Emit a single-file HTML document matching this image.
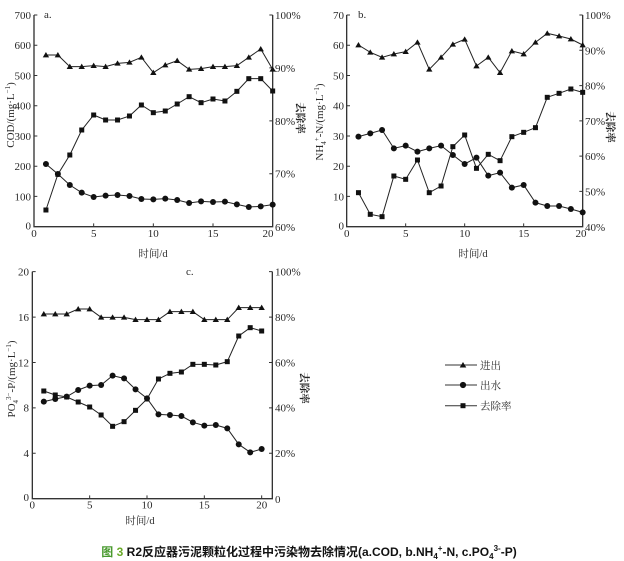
<!DOCTYPE html>
<html>
<head>
<meta charset="utf-8">
<style>
html,body{margin:0;padding:0;background:#fff;}
svg{display:block;}
.n{font-family:"Liberation Serif","Noto Serif CJK SC",serif;font-size:11px;fill:#2a2a2a;}
.cj{font-family:"Liberation Serif","Noto Serif CJK SC",serif;font-size:10.5px;fill:#2a2a2a;}
.cjb{font-family:"Liberation Serif","Noto Serif CJK SC",serif;font-size:10.5px;fill:#222;font-weight:bold;}
.cap{font-family:"Liberation Sans","Noto Sans CJK SC",sans-serif;font-size:12px;font-weight:bold;fill:#111;}
</style>
</head>
<body>
<svg width="624" height="561" viewBox="0 0 624 561" xmlns="http://www.w3.org/2000/svg">
<rect width="624" height="561" fill="#fff"/>
<defs>
  <marker id="tri" viewBox="-11 -11 22 22" markerWidth="22" markerHeight="22" refX="0" refY="0" markerUnits="userSpaceOnUse" orient="0" overflow="visible">
    <path d="M0,-9 L9.5,7 L-9.5,7Z" fill="#111"/>
  </marker>
  <marker id="cir" viewBox="-11 -11 22 22" markerWidth="22" markerHeight="22" refX="0" refY="0" markerUnits="userSpaceOnUse" orient="0" overflow="visible">
    <circle r="9" fill="#111"/>
  </marker>
  <marker id="sq" viewBox="-11 -11 22 22" markerWidth="22" markerHeight="22" refX="0" refY="0" markerUnits="userSpaceOnUse" orient="0" overflow="visible">
    <rect x="-7.5" y="-7.5" width="15" height="15" fill="#111"/>
  </marker>
</defs>

<!-- ===== Chart a ===== -->
<g transform="scale(0.333333)">
  <path d="M102,45 V680 H818 V45" fill="none" stroke="#333" stroke-width="4"/>
  <path d="M102,45h10M102,135.7h10M102,226.4h10M102,317.1h10M102,407.9h10M102,498.6h10M102,589.3h10
           M818,45h-10M818,203.75h-10M818,362.5h-10M818,521.25h-10
           M281,680v-10M460,680v-10M639,680v-10" stroke="#333" stroke-width="3" fill="none"/>
  <polyline fill="none" stroke="#222" stroke-width="3" marker-start="url(#tri)" marker-mid="url(#tri)" marker-end="url(#tri)"
    points="137.8,165 173.6,165 209.4,200 245.2,200 281,197 316.8,200 352.6,190 388.4,187 424.2,172 460,218 495.8,195 531.6,182 567.4,208 603.2,206 639,200 674.8,200 710.6,197 746.4,172 782.2,147 818,208"/>
  <polyline fill="none" stroke="#222" stroke-width="3" marker-start="url(#cir)" marker-mid="url(#cir)" marker-end="url(#cir)"
    points="137.8,492 173.6,522 209.4,555 245.2,578 281,591 316.8,587 352.6,585 388.4,588 424.2,597 460,598 495.8,596 531.6,600 567.4,609 603.2,604 639,606 674.8,605 710.6,613 746.4,621 782.2,619 818,614"/>
  <polyline fill="none" stroke="#222" stroke-width="3" marker-start="url(#sq)" marker-mid="url(#sq)" marker-end="url(#sq)"
    points="137.8,630 173.6,523 209.4,465 245.2,390 281,345 316.8,360 352.6,360 388.4,348 424.2,315 460,338 495.8,333 531.6,312 567.4,290 603.2,308 639,297 674.8,303 710.6,274 746.4,236 782.2,236 818,273"/>
</g>
<g class="n" text-anchor="end">
  <text x="31" y="19">700</text>
  <text x="31" y="49.2">600</text>
  <text x="31" y="79.5">500</text>
  <text x="31" y="109.7">400</text>
  <text x="31" y="140">300</text>
  <text x="31" y="170.2">200</text>
  <text x="31" y="200.4">100</text>
  <text x="31" y="229.5">0</text>
</g>
<g class="n">
  <text x="275" y="19">100%</text>
  <text x="275" y="71.9">90%</text>
  <text x="275" y="124.8">80%</text>
  <text x="275" y="177.7">70%</text>
  <text x="275" y="231">60%</text>
  <text x="44" y="18">a.</text>
</g>
<g class="n" text-anchor="middle">
  <text x="34" y="237">0</text>
  <text x="93.7" y="237">5</text>
  <text x="153.3" y="237">10</text>
  <text x="213" y="237">15</text>
  <text x="268" y="237">20</text>
</g>
<text class="n" text-anchor="middle" transform="translate(14,115) rotate(-90)">COD/(mg·L<tspan font-size="7" dy="-4">−1</tspan><tspan dy="4">)</tspan></text>
<text class="cjb" text-anchor="middle" transform="translate(297,118) rotate(90)">去除率</text>
<text class="cj" text-anchor="middle" x="153" y="257">时间/d</text>

<!-- ===== Chart b ===== -->
<g transform="translate(310,0) scale(0.333333)">
  <path d="M110,45 V680 H818 V45" fill="none" stroke="#333" stroke-width="4"/>
  <path d="M110,45h10M110,135.7h10M110,226.4h10M110,317.1h10M110,407.9h10M110,498.6h10M110,589.3h10
           M818,45h-10M818,150.8h-10M818,256.7h-10M818,362.5h-10M818,468.3h-10M818,574.2h-10
           M287,680v-10M464,680v-10M641,680v-10" stroke="#333" stroke-width="3" fill="none"/>
  <polyline fill="none" stroke="#222" stroke-width="3" marker-start="url(#tri)" marker-mid="url(#tri)" marker-end="url(#tri)"
    points="145.4,135 180.8,157 216.2,172 251.6,162 287,155 322.4,127 357.8,208 393.2,172 428.6,133 464,118 499.4,198 534.8,172 570.2,218 605.6,153 641,162 676.4,127 711.8,100 747.2,108 782.6,117 818,135"/>
  <polyline fill="none" stroke="#222" stroke-width="3" marker-start="url(#cir)" marker-mid="url(#cir)" marker-end="url(#cir)"
    points="145.4,410 180.8,400 216.2,390 251.6,445 287,437 322.4,455 357.8,445 393.2,437 428.6,465 464,492 499.4,473 534.8,527 570.2,518 605.6,563 641,555 676.4,608 711.8,618 747.2,618 782.6,627 818,637"/>
  <polyline fill="none" stroke="#222" stroke-width="3" marker-start="url(#sq)" marker-mid="url(#sq)" marker-end="url(#sq)"
    points="145.4,578 180.8,643 216.2,650 251.6,528 287,538 322.4,480 357.8,578 393.2,558 428.6,440 464,405 499.4,505 534.8,463 570.2,482 605.6,410 641,397 676.4,383 711.8,292 747.2,280 782.6,267 818,277"/>
</g>
<g class="n" text-anchor="end">
  <text x="344" y="19">70</text>
  <text x="344" y="49.2">60</text>
  <text x="344" y="79.5">50</text>
  <text x="344" y="109.7">40</text>
  <text x="344" y="140">30</text>
  <text x="344" y="170.2">20</text>
  <text x="344" y="200.4">10</text>
  <text x="344" y="229.5">0</text>
</g>
<g class="n">
  <text x="585" y="19">100%</text>
  <text x="585" y="54.3">90%</text>
  <text x="585" y="89.6">80%</text>
  <text x="585" y="124.8">70%</text>
  <text x="585" y="160.1">60%</text>
  <text x="585" y="195.4">50%</text>
  <text x="585" y="231">40%</text>
  <text x="358" y="18">b.</text>
</g>
<g class="n" text-anchor="middle">
  <text x="346.7" y="237">0</text>
  <text x="405.7" y="237">5</text>
  <text x="464.7" y="237">10</text>
  <text x="523.7" y="237">15</text>
  <text x="581" y="237">20</text>
</g>
<text class="n" text-anchor="middle" transform="translate(323,122) rotate(-90)">NH<tspan font-size="7" dy="3">4</tspan><tspan font-size="7" dy="-7">+</tspan><tspan dy="4">-N/(mg·L</tspan><tspan font-size="7" dy="-4">−1</tspan><tspan dy="4">)</tspan></text>
<text class="cjb" text-anchor="middle" transform="translate(607,127) rotate(90)">去除率</text>
<text class="cj" text-anchor="middle" x="473" y="257">时间/d</text>

<!-- ===== Chart c ===== -->
<g transform="translate(0,255) scale(0.333333)">
  <path d="M97,50 V731 H817 V50" fill="none" stroke="#333" stroke-width="4"/>
  <path d="M97,50h10M97,186.2h10M97,322.4h10M97,458.6h10M97,594.8h10
           M817,50h-10M817,186.2h-10M817,322.4h-10M817,458.6h-10M817,594.8h-10
           M269,731v-10M441,731v-10M613,731v-10M785,731v-10" stroke="#333" stroke-width="3" fill="none"/>
  <polyline fill="none" stroke="#222" stroke-width="3" marker-start="url(#tri)" marker-mid="url(#tri)" marker-end="url(#tri)"
    points="131.4,177 165.8,177 200.2,177 234.6,162 269,162 303.4,187 337.8,187 372.2,187 406.6,194 441,194 475.4,194 509.8,170 544.2,170 578.6,170 613,194 647.4,194 681.8,194 716.2,158 750.6,158 785,158"/>
  <polyline fill="none" stroke="#222" stroke-width="3" marker-start="url(#cir)" marker-mid="url(#cir)" marker-end="url(#cir)"
    points="131.4,440 165.8,432 200.2,425 234.6,405 269,392 303.4,390 337.8,362 372.2,370 406.6,403 441,430 475.4,478 509.8,480 544.2,483 578.6,502 613,512 647.4,510 681.8,520 716.2,568 750.6,592 785,582"/>
  <polyline fill="none" stroke="#222" stroke-width="3" marker-start="url(#sq)" marker-mid="url(#sq)" marker-end="url(#sq)"
    points="131.4,408 165.8,420 200.2,426 234.6,441 269,456 303.4,480 337.8,514 372.2,500 406.6,466 441,432 475.4,372 509.8,355 544.2,351 578.6,328 613,328 647.4,330 681.8,320 716.2,243 750.6,218 785,228"/>
</g>
<g class="n" text-anchor="end">
  <text x="29" y="275.5">20</text>
  <text x="29" y="321">16</text>
  <text x="29" y="366.3">12</text>
  <text x="29" y="411.7">8</text>
  <text x="29" y="457">4</text>
  <text x="29" y="501">0</text>
</g>
<g class="n">
  <text x="275" y="275.5">100%</text>
  <text x="275" y="321">80%</text>
  <text x="275" y="366.3">60%</text>
  <text x="275" y="411.7">40%</text>
  <text x="275" y="457">20%</text>
  <text x="275" y="503">0</text>
  <text x="186" y="275">c.</text>
</g>
<g class="n" text-anchor="middle">
  <text x="32.3" y="508.5">0</text>
  <text x="89.7" y="508.5">5</text>
  <text x="147" y="508.5">10</text>
  <text x="204.3" y="508.5">15</text>
  <text x="261.7" y="508.5">20</text>
</g>
<text class="n" text-anchor="middle" transform="translate(15,379) rotate(-90)">PO<tspan font-size="7" dy="3">4</tspan><tspan font-size="7" dy="-7">3−</tspan><tspan dy="4">-P/(mg·L</tspan><tspan font-size="7" dy="-4">−1</tspan><tspan dy="4">)</tspan></text>
<text class="cjb" text-anchor="middle" transform="translate(301,388) rotate(90)">去除率</text>
<text class="cj" text-anchor="middle" x="140" y="524">时间/d</text>

<!-- ===== Legend ===== -->
<g stroke="#333" stroke-width="1">
  <line x1="445" y1="365" x2="477" y2="365"/>
  <line x1="445" y1="385" x2="477" y2="385"/>
  <line x1="445" y1="405.7" x2="477" y2="405.7"/>
</g>
<path d="M463,362 L466.3,367.5 L459.7,367.5Z" fill="#111"/>
<circle cx="463" cy="385" r="3.1" fill="#111"/>
<rect x="460.5" y="403.2" width="5" height="5" fill="#111"/>
<g class="cj">
  <text x="480" y="369">进出</text>
  <text x="480" y="389">出水</text>
  <text x="480" y="409.5">去除率</text>
</g>

<!-- ===== Caption ===== -->
<text class="cap" x="309" y="556" text-anchor="middle"><tspan fill="#4a9a30">图 </tspan><tspan fill="#6aaa2a">3</tspan> R2反应器污泥颗粒化过程中污染物去除情况(a.COD, b.NH<tspan font-size="8" dy="3">4</tspan><tspan font-size="8" dy="-8">+</tspan><tspan dy="5">-N, c.PO</tspan><tspan font-size="8" dy="3">4</tspan><tspan font-size="8" dy="-8">3-</tspan><tspan dy="5">-P)</tspan></text>
</svg>
</body>
</html>
